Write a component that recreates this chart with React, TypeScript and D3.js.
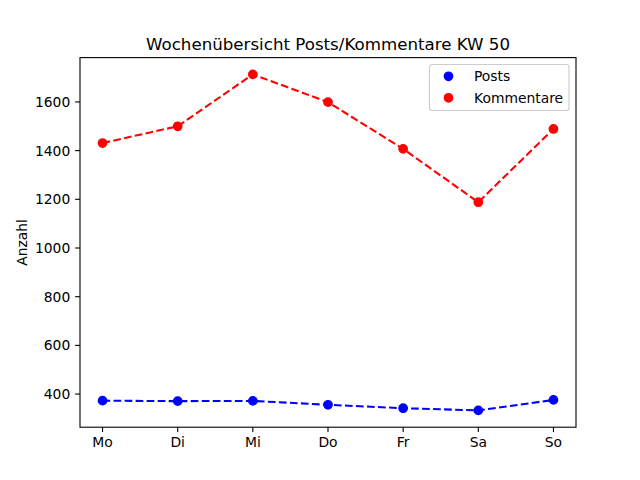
import React from "react";
import * as d3 from "d3";

const days = ["Mo", "Di", "Mi", "Do", "Fr", "Sa", "So"];
const posts = [373, 371, 372, 356, 342, 333, 376];
const kommentare = [1431, 1500, 1713, 1599, 1407, 1188, 1489];
const yTicks = [400, 600, 800, 1000, 1200, 1400, 1600];
const seriesNames = ["Posts", "Kommentare"];
const seriesColors = ["#0000ff", "#ff0000"];

const W = 640, H = 480;
const L = 80, R = 576, T = 57.6, B = 427.2;
const FONT = "DejaVu Sans, sans-serif";

export default function App() {
  const all = [...posts, ...kommentare];
  const mn = d3.min(all)!, mx = d3.max(all)!;
  const m = (mx - mn) * 0.05;
  const x = d3.scaleLinear().domain([-0.3, days.length - 1 + 0.3]).range([L, R]);
  const y = d3.scaleLinear().domain([mn - m, mx + m]).range([B, T]);
  const line = d3.line<number>().x((_, i) => x(i)).y((d) => y(d));
  const series = [posts, kommentare];
  const tickLen = 4.86;
  const lw = 2.08;
  const dash = `${3.7 * lw},${1.6 * lw}`;
  const mr = 4.17;

  return (
    <svg width={W} height={H} style={{ position: "absolute", left: 0, top: 0, background: "#fff" }} fontFamily={FONT}>
      <rect x={0} y={0} width={W} height={H} fill="#fff" />
      <text x={(L + R) / 2} y={49.5} textAnchor="middle" fontSize={16.67} fill="#000">
        Wochenübersicht Posts/Kommentare KW 50
      </text>
      {series.map((s, k) => (
        <g key={k}>
          <path d={line(s)!} fill="none" stroke={seriesColors[k]} strokeWidth={lw} strokeDasharray={dash} />
          {s.map((v, i) => (
            <circle key={i} cx={x(i)} cy={y(v)} r={mr} fill={seriesColors[k]} stroke={seriesColors[k]} strokeWidth={1.39} />
          ))}
        </g>
      ))}
      <rect x={L} y={T} width={R - L} height={B - T} fill="none" stroke="#000" strokeWidth={1.1} />
      {yTicks.map((t) => (
        <g key={t}>
          <line x1={L - tickLen} x2={L} y1={y(t)} y2={y(t)} stroke="#000" strokeWidth={1.1} />
          <text x={L - tickLen - 4.86} y={y(t)} dy="0.36em" textAnchor="end" fontSize={13.89} fill="#000">
            {t}
          </text>
        </g>
      ))}
      {days.map((d, i) => (
        <g key={d}>
          <line x1={x(i)} x2={x(i)} y1={B} y2={B + tickLen} stroke="#000" strokeWidth={1.1} />
          <text x={x(i)} y={B + tickLen + 4.86} dy="0.76em" textAnchor="middle" fontSize={13.89} fill="#000">
            {d}
          </text>
        </g>
      ))}
      <text transform={`translate(27,${(T + B) / 2}) rotate(-90)`} textAnchor="middle" fontSize={13.89} fill="#000">
        Anzahl
      </text>
      <g>
        <rect x={429.5} y={64.5} width={139.5} height={46} rx={2.8} fill="#fff" fillOpacity={0.8} stroke="#cccccc" strokeWidth={1.1} />
        {seriesNames.map((n, k) => (
          <g key={n}>
            <circle cx={448.5} cy={76.3 + k * 21.5} r={mr} fill={seriesColors[k]} stroke={seriesColors[k]} strokeWidth={1.39} />
            <text x={474} y={76.3 + k * 21.5} dy="0.36em" fontSize={13.89} fill="#000">
              {n}
            </text>
          </g>
        ))}
      </g>
    </svg>
  );
}
